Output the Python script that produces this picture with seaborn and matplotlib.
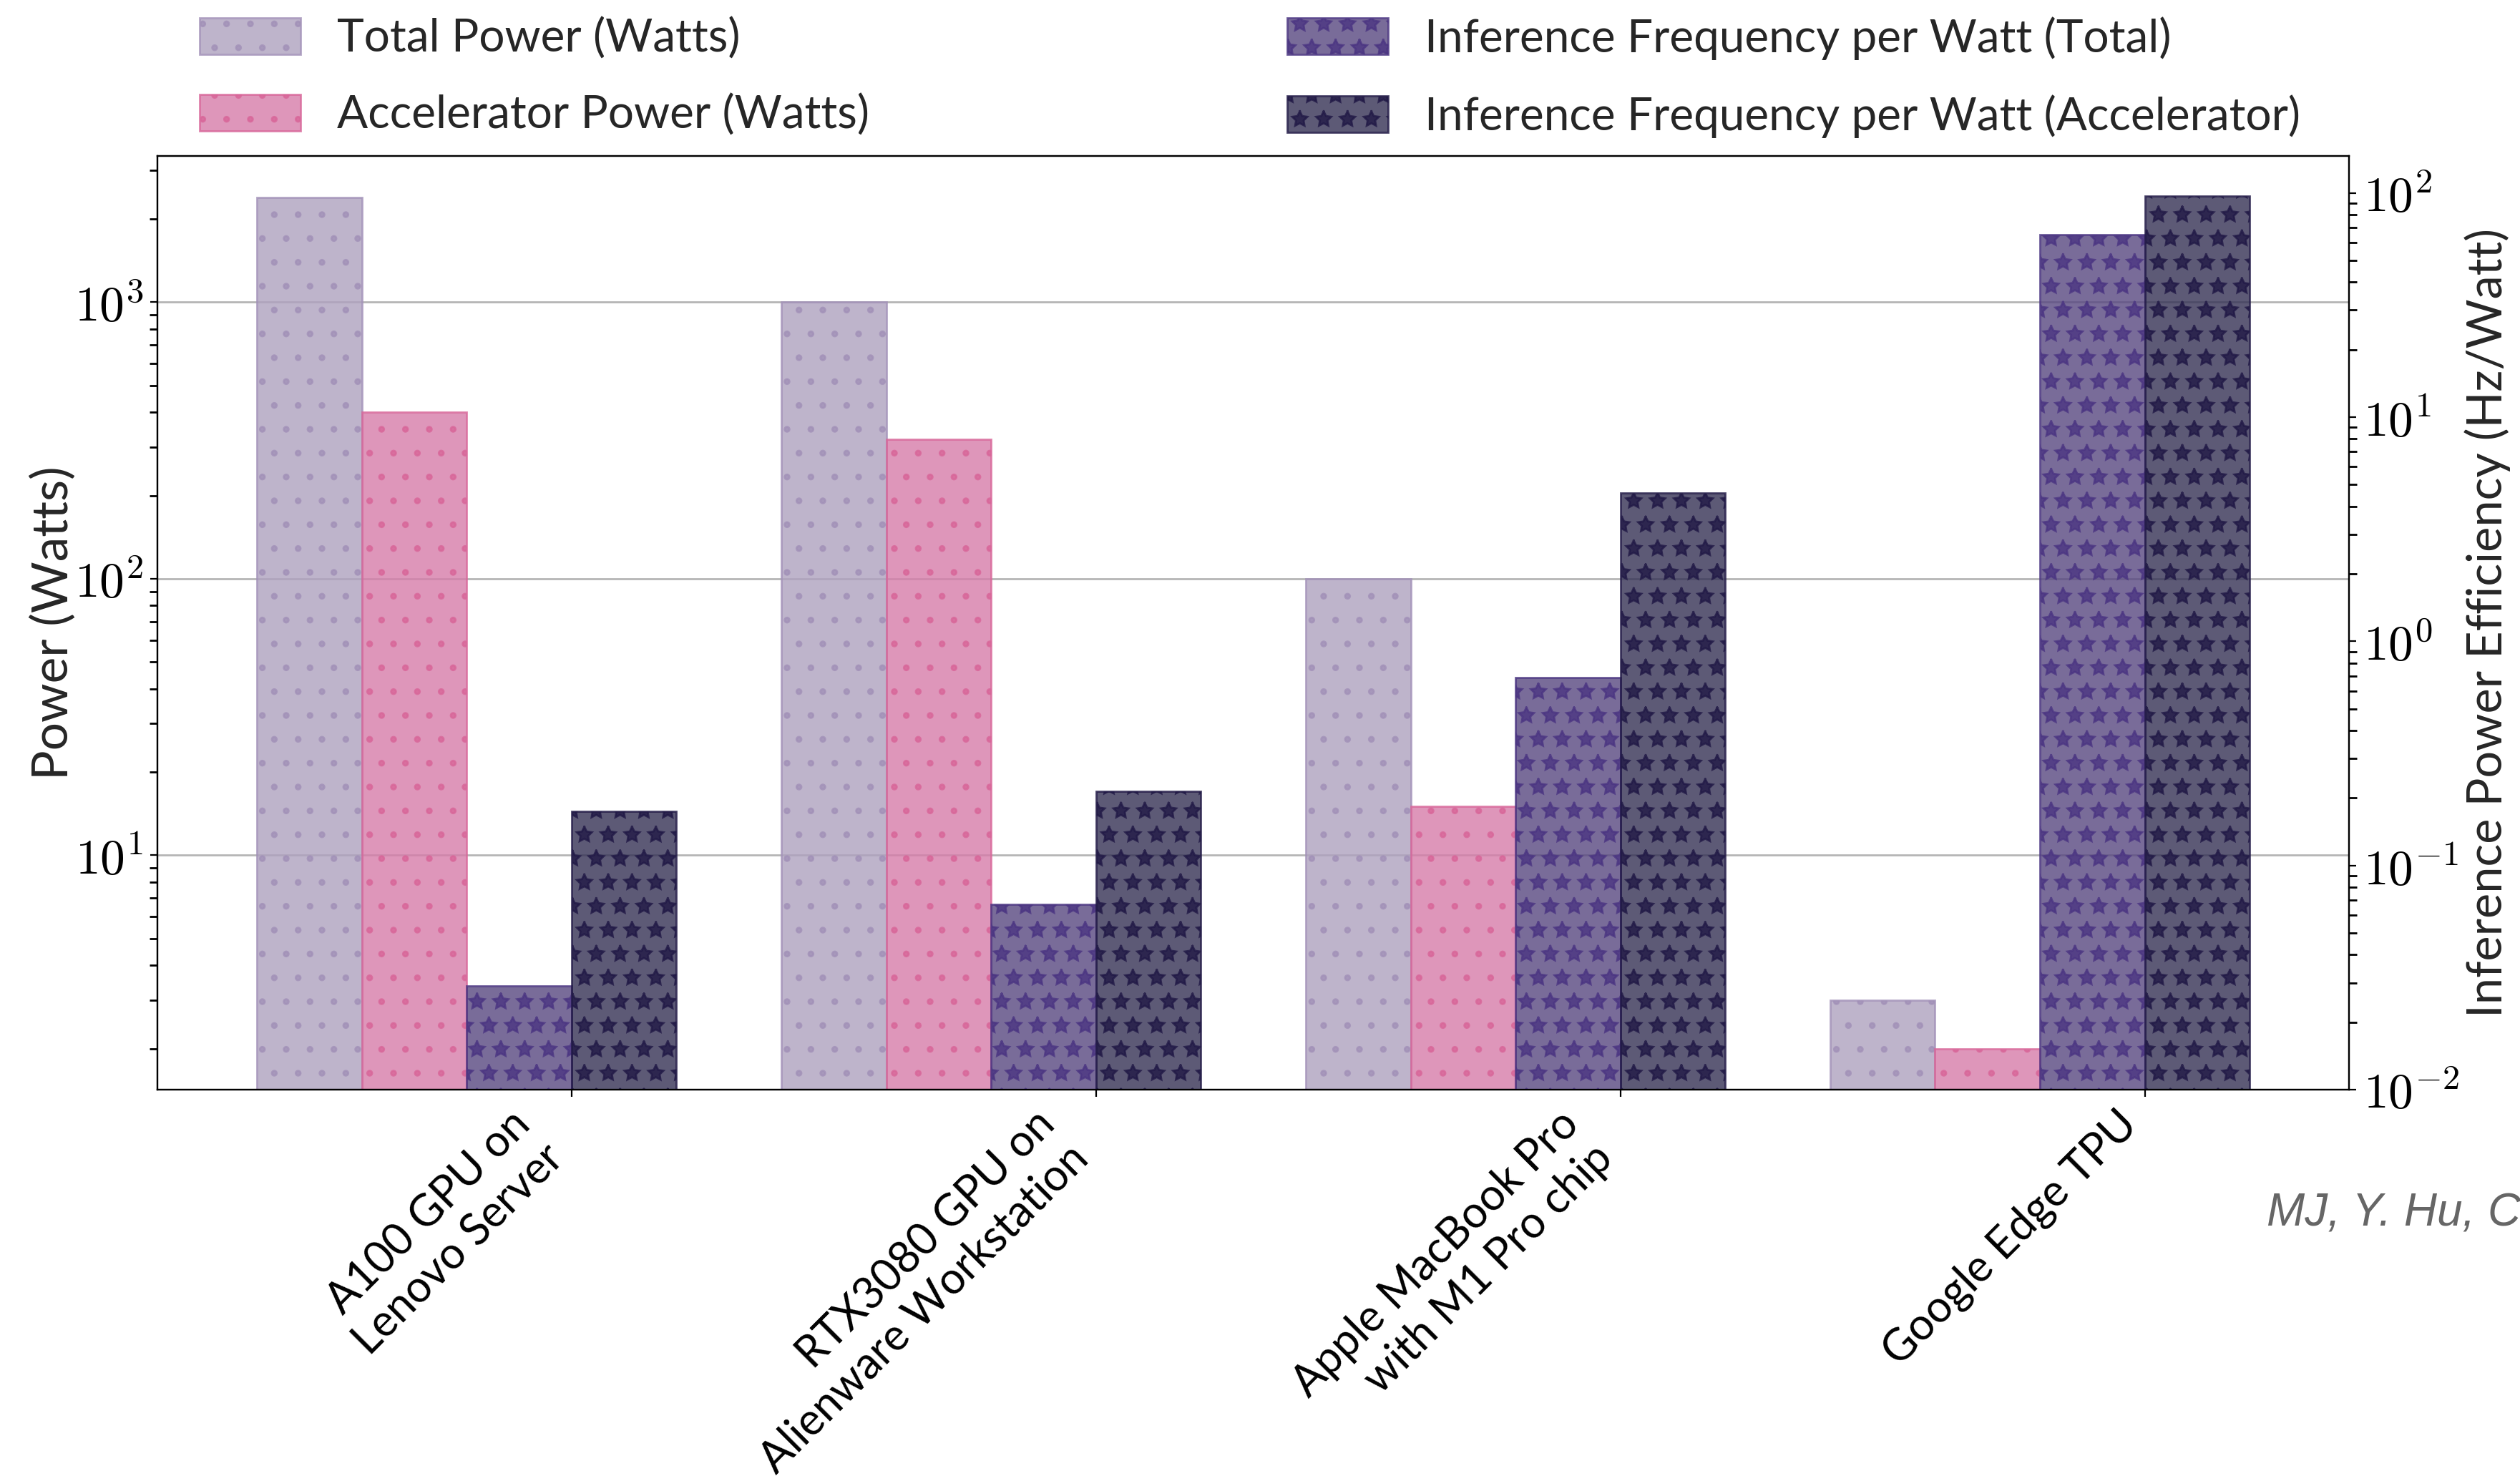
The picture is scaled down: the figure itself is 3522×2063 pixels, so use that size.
import numpy as np
import pandas as pd
import matplotlib
matplotlib.use("Agg")
import matplotlib.pyplot as plt
from matplotlib.ticker import FuncFormatter, NullFormatter
import seaborn as sns

# ---- data ----
devices = [
    "A100 GPU on\nLenovo Server",
    "RTX3080 GPU on\nAlienware Workstation",
    "Apple MacBook Pro\nwith M1 Pro chip",
    "Google Edge TPU",
]
total_power = [2400, 1000, 100, 3]          # Watts
accel_power = [400, 320, 15, 2]             # Watts
eff_total = [0.029, 0.067, 0.69, 65]        # Hz / Watt
eff_accel = [0.175, 0.215, 4.6, 97]         # Hz / Watt

series_labels = [
    "Total Power (Watts)",
    "Accelerator Power (Watts)",
    "Inference Frequency per Watt (Total)",
    "Inference Frequency per Watt (Accelerator)",
]

sns.set_theme(style="ticks")
plt.rcParams["font.family"] = ["Lato", "DejaVu Sans"]
plt.rcParams["mathtext.fontset"] = "cm"
plt.rcParams["axes.edgecolor"] = "black"
plt.rcParams["xtick.color"] = "black"
plt.rcParams["ytick.color"] = "black"
plt.rcParams["hatch.linewidth"] = 1.0

FS = 23
x = np.arange(len(devices))
width = 0.2

# face colour, hatch/edge colour, hatch
styles = [
    ("#AEA1BF", "#A291B8", "."),
    ("#D67CA9", "#D86699", "."),
    ("#574780", "#4B3582", "*"),
    ("#343154", "#211946", "*"),
]

fig = plt.figure(figsize=(3523 / 200, 2063 / 200), dpi=200)
ax = fig.add_axes([0.0624, 0.2617, 0.8696, 0.6326])
ax.set_yscale("log")
ax2 = ax.twinx()
ax2.set_yscale("log")

def draw(axis, pos, vals, style, label):
    face, edge, hatch = style
    df = pd.DataFrame({"pos": pos, "val": vals})
    sns.barplot(data=df, x="pos", y="val", native_scale=True, width=width,
                color=face, saturation=1, errorbar=None, ax=axis,
                edgecolor=edge, linewidth=1.0, hatch=hatch, alpha=0.8,
                label=label)

draw(ax, x - 0.5, total_power, styles[0], series_labels[0])
draw(ax, x - 0.3, accel_power, styles[1], series_labels[1])
draw(ax2, x - 0.1, eff_total, styles[2], series_labels[2])
draw(ax2, x + 0.1, eff_accel, styles[3], series_labels[3])

ax.set_ylim(1.42, 3380)
ax2.set_ylim(0.01, 146)
ax.set_xlim(-0.79, 3.39)

ax.yaxis.grid(True, which="major", color="#b5b5b5", linewidth=1.0)
ax.set_axisbelow(True)

# computer-modern style 10^n labels
pow_fmt = FuncFormatter(lambda v, p: r"$10^{%d}$" % int(round(np.log10(v))))
for a in (ax, ax2):
    a.yaxis.set_major_formatter(pow_fmt)
    a.yaxis.set_minor_formatter(NullFormatter())

ax.set_xticks(x)
ax.set_xticklabels(devices, rotation=45, ha="right", fontsize=22)
ax.set_xlabel("")
ax2.set_xlabel("")
ax.set_ylabel("Power (Watts)", fontsize=25)
ax2.set_ylabel("Inference Power Efficiency (Hz/Watt)", fontsize=24)
ax.yaxis.set_label_coords(-0.037, 0.5)
ax2.yaxis.set_label_coords(1.0526, 0.5)
ax.tick_params(axis="y", which="major", labelsize=25, length=3.5, width=0.8)
ax2.tick_params(axis="y", which="major", labelsize=25, length=3.5, width=0.8)
ax.tick_params(axis="x", length=3.5, width=0.8)
for a in (ax, ax2):
    for sp in a.spines.values():
        sp.set_visible(True)
        sp.set_color("black")
        sp.set_linewidth(0.8)

h1, l1 = ax.get_legend_handles_labels()
h2, l2 = ax2.get_legend_handles_labels()
for a in (ax, ax2):
    if a.get_legend() is not None:
        a.get_legend().remove()
ax2.legend(h1 + h2, l1 + l2, loc="lower left",
           bbox_to_anchor=(0.011, 1.0, 0.975, 0.1),
           mode="expand", ncol=2, frameon=False, borderaxespad=0.0,
           fontsize=FS, labelspacing=0.75, handlelength=2.2,
           handleheight=0.85)

fig.text(0.8993, 1 - 1697 / 2063, "MJ, Y. Hu, C", color="#666666",
         style="italic", fontsize=23, family="Liberation Sans",
         ha="left", va="center")

fig.savefig("out.png", dpi=200)
